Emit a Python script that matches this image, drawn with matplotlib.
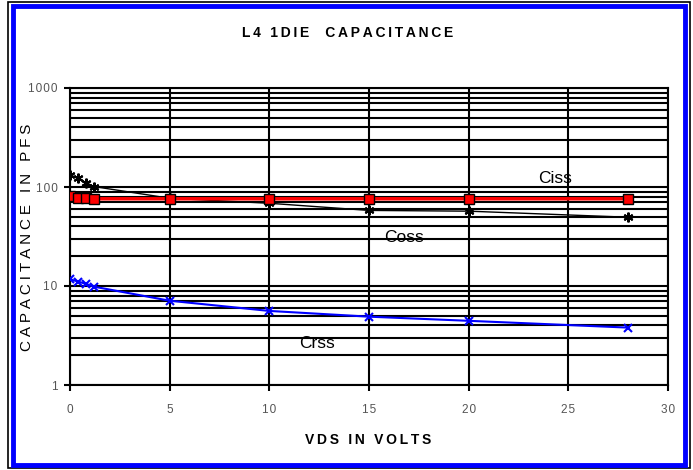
#!/usr/bin/env python3
# -*- coding: utf-8 -*-
import numpy as np
import matplotlib
matplotlib.use("Agg")
import matplotlib.pyplot as plt
from matplotlib.patches import Rectangle
from matplotlib.ticker import LogLocator, NullFormatter, FixedLocator

plt.rcParams['font.family'] = ['Liberation Sans', 'DejaVu Sans']

# DONNÉES
vds = [0, 0.4, 0.8, 1.2, 5, 10, 15, 20, 28]
ciss = [81, 78, 78, 76, 76, 76, 76, 76, 76]
coss = [133, 122, 111, 101, 77, 68.5, 58, 57, 49.5]
crss = [11.7, 11.1, 10.5, 9.85, 7.1, 5.6, 4.9, 4.45, 3.8]
x_ticks = [0, 5, 10, 15, 20, 25, 30]
y_ticks = [1, 10, 100, 1000]


def espace(txt, sep='\u2009'):
    """Écartement des lettres (texte style Excel)"""
    return sep.join(txt)


# FIGURE
fig = plt.figure(figsize=(6.93, 4.70), dpi=100)
ax = fig.add_axes([70/693, 1 - 385/470, 598/693, 297/470])

# cadres
fig.patches.append(Rectangle((8/693, 2/470), 682/693, 466/470, transform=fig.transFigure,
                             fill=False, edgecolor='black', linewidth=1.2))
fig.patches.append(Rectangle((13/693, 5/470), 672/693, 459/470, transform=fig.transFigure,
                             fill=False, edgecolor='#0000ff', linewidth=3.5))

ax.set_yscale('log')
ax.set_xlim(0, 30)
ax.set_ylim(1, 1000)

ax.yaxis.set_major_locator(FixedLocator(y_ticks))
ax.yaxis.set_minor_locator(LogLocator(base=10, subs=np.arange(2, 10)))
ax.yaxis.set_minor_formatter(NullFormatter())
ax.set_yticklabels([espace(str(v), '\u200a') for v in y_ticks])
ax.xaxis.set_major_locator(FixedLocator(x_ticks))
ax.set_xticklabels([espace(str(v), '\u200a') for v in x_ticks])

ax.grid(True, which='major', color='black', linewidth=1.5)
ax.grid(True, which='minor', axis='y', color='black', linewidth=1.5)
for s in ax.spines.values():
    s.set_linewidth(1.5)
ax.tick_params(which='major', direction='out', length=4, width=1.5,
               labelsize=8.5, labelcolor='#555555', pad=5)
ax.tick_params(which='minor', length=0)
ax.tick_params(axis='x', pad=10)

ax.plot(vds, coss, color='black', linewidth=1, marker=(6, 2, 0), markersize=7,
        markeredgewidth=1.5, zorder=3)
ax.plot(vds, ciss, color='#ff0000', linewidth=2.5, marker='s', markersize=7,
        markerfacecolor='#ff0000', markeredgecolor='black', markeredgewidth=1, zorder=4)
ax.plot(vds, crss, color='#0000ff', linewidth=1.5, marker='x', markersize=6,
        markeredgewidth=1.5, zorder=4)

ax.text(24.35, 122, 'Ciss', fontsize=12.5, ha='center', va='center')
ax.text(16.76, 31, 'Coss', fontsize=12.5, ha='center', va='center')
ax.text(12.4, 2.65, 'Crss', fontsize=12.5, ha='center', va='center')

fig.text(348/693, 1 - 33/470, espace('L4 1DIE  CAPACITANCE'), fontsize=10,
         fontweight='bold', ha='center', va='center')
fig.text(368/693, 1 - 440/470, espace('VDS IN VOLTS'), fontsize=10,
         fontweight='bold', ha='center', va='center')
fig.text(27/693, 1 - 237/470, espace('CAPACITANCE IN PFS', '\u2005'), fontsize=11,
         rotation=90, ha='center', va='center')

plt.savefig('out.png', dpi=100)
